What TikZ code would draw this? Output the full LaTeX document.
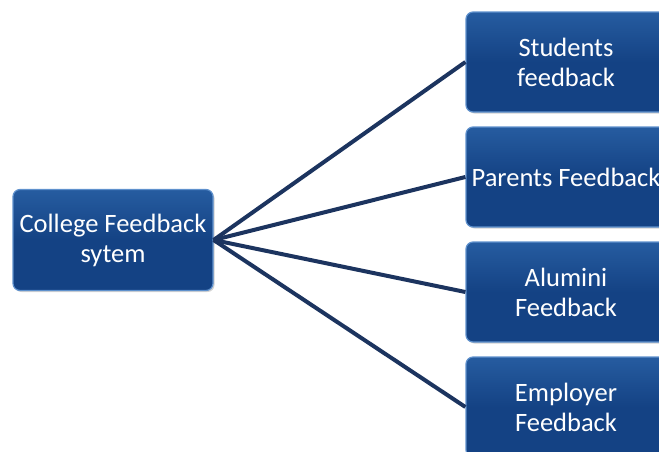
\documentclass[tikz,border=0pt]{standalone}
\usepackage{fontspec}
\setmainfont{Carlito}
\usetikzlibrary{shadows}
\definecolor{boxblue}{RGB}{20,66,132}
\definecolor{boxtop}{RGB}{38,92,160}
\definecolor{boxedge}{RGB}{95,145,205}
\definecolor{linkcol}{RGB}{28,52,95}
\tikzset{
  fb/.style={draw=boxedge, line width=1.2pt, rounded corners=7pt,
    top color=boxtop, bottom color=boxblue, middle color=boxblue,
    text=white, align=center, inner sep=0pt,
    font=\fontsize{26.5}{30}\selectfont,
    drop shadow={shadow xshift=1.5pt, shadow yshift=-1.5pt, opacity=0.35}},
  link/.style={draw=linkcol, line width=4pt}
}
\begin{document}
\begin{tikzpicture}[x=1pt,y=-1pt]
\useasboundingbox (0,0) rectangle (659,451);
\clip (0,0) rectangle (659,451);
\node[fb, minimum width=200pt, minimum height=101pt] (root) at (113,240) {College Feedback\\sytem};
\node[fb, minimum width=200pt, minimum height=100pt] (s) at (566,62) {Students\\feedback};
\node[fb, minimum width=200pt, minimum height=100pt] (p) at (566,177) {Parents Feedback};
\node[fb, minimum width=200pt, minimum height=100pt] (a) at (566,292) {Alumini\\Feedback};
\node[fb, minimum width=200pt, minimum height=100pt] (e) at (566,407) {Employer\\Feedback};
\draw[link] (root.east) -- (s.west);
\draw[link] (root.east) -- (p.west);
\draw[link] (root.east) -- (a.west);
\draw[link] (root.east) -- (e.west);
\end{tikzpicture}
\end{document}
